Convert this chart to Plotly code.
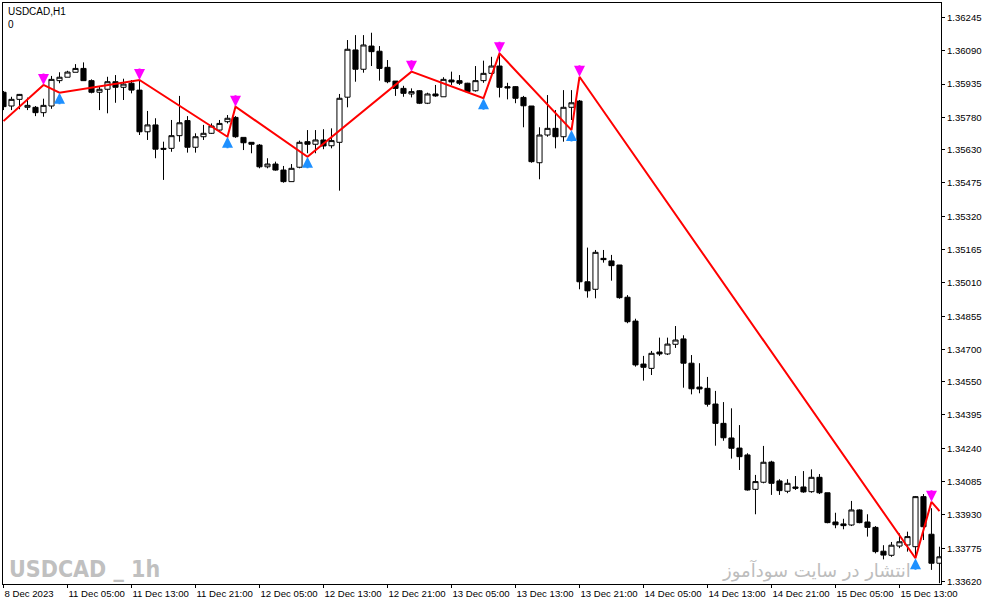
import plotly.graph_objects as go

# ---------------- data ----------------
bar_index = list(range(118))

opens = [1.35897, 1.35833, 1.35864, 1.35827, 1.35827, 1.35802, 1.35833, 1.35951, 1.35967, 1.35990,
         1.36008, 1.35951, 1.35897, 1.35911, 1.35946, 1.35920, 1.35939, 1.35907, 1.35713, 1.35745,
         1.35636, 1.35636, 1.35695, 1.35765, 1.35641, 1.35690, 1.35706, 1.35721, 1.35760, 1.35780,
         1.35687, 1.35664, 1.35651, 1.35550, 1.35563, 1.35535, 1.35481, 1.35548, 1.35667, 1.35655,
         1.35675, 1.35648, 1.35664, 1.35874, 1.36094, 1.36004, 1.36112, 1.36088, 1.36013, 1.35949,
         1.35915, 1.35889, 1.35904, 1.35846, 1.35889, 1.35876, 1.35954, 1.35951, 1.35939, 1.35904,
         1.35951, 1.35985, 1.36019, 1.35923, 1.35923, 1.35873, 1.35833, 1.35569, 1.35698, 1.35729,
         1.35690, 1.35827, 1.35856, 1.35015, 1.34980, 1.35124, 1.35112, 1.35093, 1.34943, 1.34832,
         1.34632, 1.34612, 1.34688, 1.34679, 1.34724, 1.34749, 1.34636, 1.34525, 1.34519, 1.34446,
         1.34356, 1.34288, 1.34241, 1.34209, 1.34049, 1.34082, 1.34176, 1.34088, 1.34040, 1.34060,
         1.34060, 1.34038, 1.34105, 1.34033, 1.33897, 1.33888, 1.33883, 1.33953, 1.33897, 1.33872,
         1.33761, 1.33742, 1.33785, 1.33790, 1.33782, 1.34015, 1.33840, 1.33705]

highs = [1.35903, 1.35876, 1.35889, 1.35872, 1.35833, 1.35867, 1.35973, 1.35990, 1.35997, 1.36028,
         1.36036, 1.35957, 1.35926, 1.35969, 1.35977, 1.35960, 1.35954, 1.35954, 1.35810, 1.35776,
         1.35667, 1.35768, 1.35880, 1.35786, 1.35706, 1.35745, 1.35752, 1.35768, 1.35791, 1.35786,
         1.35687, 1.35664, 1.35656, 1.35590, 1.35574, 1.35554, 1.35563, 1.35672, 1.35721, 1.35721,
         1.35725, 1.35729, 1.35889, 1.36140, 1.36163, 1.36163, 1.36174, 1.36112, 1.36047, 1.35949,
         1.35927, 1.35915, 1.35907, 1.35895, 1.35931, 1.35967, 1.35993, 1.35977, 1.35941, 1.36019,
         1.36044, 1.36062, 1.36078, 1.35941, 1.35926, 1.35880, 1.35833, 1.35734, 1.35884, 1.35814,
         1.35907, 1.35907, 1.35861, 1.35174, 1.35163, 1.35163, 1.35140, 1.35093, 1.34953, 1.34843,
         1.34670, 1.34693, 1.34755, 1.34755, 1.34809, 1.34766, 1.34674, 1.34636, 1.34572, 1.34507,
         1.34455, 1.34426, 1.34348, 1.34217, 1.34116, 1.34251, 1.34182, 1.34096, 1.34096, 1.34111,
         1.34134, 1.34142, 1.34120, 1.34033, 1.33940, 1.33912, 1.33995, 1.33956, 1.33933, 1.33878,
         1.33789, 1.33804, 1.33844, 1.33852, 1.34018, 1.34027, 1.33961, 1.33782]

lows = [1.35814, 1.35814, 1.35818, 1.35814, 1.35786, 1.35783, 1.35820, 1.35939, 1.35967, 1.35990,
        1.35951, 1.35892, 1.35814, 1.35799, 1.35848, 1.35861, 1.35892, 1.35698, 1.35675, 1.35590,
        1.35489, 1.35620, 1.35667, 1.35616, 1.35616, 1.35675, 1.35703, 1.35718, 1.35752, 1.35685,
        1.35628, 1.35613, 1.35543, 1.35543, 1.35532, 1.35476, 1.35481, 1.35543, 1.35613, 1.35613,
        1.35632, 1.35636, 1.35439, 1.35827, 1.35946, 1.35988, 1.36019, 1.35951, 1.35939, 1.35880,
        1.35876, 1.35873, 1.35842, 1.35842, 1.35876, 1.35876, 1.35931, 1.35931, 1.35895, 1.35900,
        1.35941, 1.35982, 1.35873, 1.35864, 1.35846, 1.35734, 1.35569, 1.35492, 1.35690, 1.35636,
        1.35667, 1.35768, 1.34980, 1.34941, 1.34938, 1.35104, 1.35020, 1.34936, 1.34822, 1.34620,
        1.34555, 1.34581, 1.34670, 1.34674, 1.34707, 1.34522, 1.34491, 1.34496, 1.34434, 1.34252,
        1.34275, 1.34192, 1.34139, 1.34043, 1.33933, 1.34077, 1.34023, 1.34023, 1.34031, 1.34046,
        1.34033, 1.34033, 1.34027, 1.33891, 1.33868, 1.33863, 1.33878, 1.33891, 1.33829, 1.33751,
        1.33723, 1.33735, 1.33775, 1.33759, 1.33735, 1.33813, 1.33674, 1.33612]

closes = [1.35830, 1.35864, 1.35887, 1.35836, 1.35802, 1.35836, 1.35957, 1.35967, 1.35991, 1.36008,
          1.35951, 1.35897, 1.35911, 1.35946, 1.35920, 1.35935, 1.35907, 1.35713, 1.35745, 1.35632,
          1.35632, 1.35695, 1.35755, 1.35641, 1.35690, 1.35706, 1.35740, 1.35752, 1.35776, 1.35690,
          1.35662, 1.35655, 1.35550, 1.35563, 1.35535, 1.35481, 1.35543, 1.35664, 1.35655, 1.35675,
          1.35647, 1.35672, 1.35869, 1.36097, 1.36004, 1.36117, 1.36086, 1.36008, 1.35946, 1.35915,
          1.35892, 1.35900, 1.35846, 1.35889, 1.35880, 1.35957, 1.35945, 1.35939, 1.35900, 1.35951,
          1.35985, 1.36019, 1.35920, 1.35917, 1.35869, 1.35834, 1.35574, 1.35698, 1.35729, 1.35690,
          1.35827, 1.35848, 1.35015, 1.34973, 1.35152, 1.35118, 1.35090, 1.34941, 1.34829, 1.34628,
          1.34617, 1.34682, 1.34679, 1.34725, 1.34744, 1.34636, 1.34517, 1.34516, 1.34445, 1.34356,
          1.34289, 1.34240, 1.34201, 1.34046, 1.34085, 1.34175, 1.34077, 1.34043, 1.34077, 1.34054,
          1.34037, 1.34105, 1.34033, 1.33894, 1.33884, 1.33880, 1.33953, 1.33894, 1.33872, 1.33759,
          1.33743, 1.33789, 1.33805, 1.33829, 1.34015, 1.33875, 1.33705, 1.33735]

# ZigZag vertices (bar index, price) and which of them get arrows
zigzag_index = [0, 5, 7, 17, 28, 29, 38, 51, 60, 62, 71, 72, 114, 116, 117]
zigzag_price = [1.35763, 1.35931, 1.35895, 1.35954, 1.35690, 1.35830, 1.35597, 1.35993,
                1.35869, 1.36078, 1.35721, 1.35969, 1.33728, 1.33991, 1.33948]
high_arrow_index = [5, 17, 29, 51, 62, 72, 116]
low_arrow_index = [7, 28, 38, 60, 71, 114]

# axis labels
time_tick_index = [0, 8, 16, 24, 32, 40, 48, 56, 64, 72, 80, 88, 96, 104, 112]
time_tick_text = ["8 Dec 2023", "11 Dec 05:00", "11 Dec 13:00", "11 Dec 21:00", "12 Dec 05:00",
                  "12 Dec 13:00", "12 Dec 21:00", "13 Dec 05:00", "13 Dec 13:00", "13 Dec 21:00",
                  "14 Dec 05:00", "14 Dec 13:00", "14 Dec 21:00", "15 Dec 05:00", "15 Dec 13:00"]
price_ticks = [1.36245, 1.36090, 1.35935, 1.35780, 1.35630, 1.35475, 1.35320, 1.35165, 1.35010,
               1.34855, 1.34700, 1.34550, 1.34395, 1.34240, 1.34085, 1.33930, 1.33775, 1.33620]

symbol_title = "USDCAD,H1"
watermark_left = "USDCAD _ 1h"
watermark_right = "انتشار در سایت سودآموز"

# ---------------- figure ----------------
zz_lookup = dict(zip(zigzag_index, zigzag_price))

fig = go.Figure()

fig.add_trace(go.Candlestick(
    x=bar_index, open=opens, high=highs, low=lows, close=closes,
    increasing=dict(fillcolor="#ffffff", line=dict(color="#000000", width=1)),
    decreasing=dict(fillcolor="#000000", line=dict(color="#000000", width=1)),
    whiskerwidth=0, showlegend=False, hoverinfo="skip",
))

fig.add_trace(go.Scatter(
    x=zigzag_index, y=zigzag_price, mode="lines",
    line=dict(color="#ff0000", width=2), showlegend=False, hoverinfo="skip",
))

annotations = []
for i in high_arrow_index:
    annotations.append(dict(x=i, y=zz_lookup[i], xref="x", yref="y", text="",
                            showarrow=True, arrowhead=2, arrowsize=1.1, arrowwidth=2,
                            arrowcolor="#ff00ff", ax=0, ay=-13))
for i in low_arrow_index:
    annotations.append(dict(x=i, y=zz_lookup[i], xref="x", yref="y", text="",
                            showarrow=True, arrowhead=2, arrowsize=1.1, arrowwidth=2,
                            arrowcolor="#1e90ff", ax=0, ay=13))

annotations.append(dict(x=0.0035, y=0.999, xref="paper", yref="paper", xanchor="left", yanchor="top",
                        text=symbol_title + "<br>0", showarrow=False, align="left",
                        font=dict(family="Liberation Sans", size=10, color="#000000")))
annotations.append(dict(x=0.004, y=0.0, xref="paper", yref="paper", xanchor="left", yanchor="bottom",
                        text="<b>" + watermark_left + "</b>", showarrow=False,
                        font=dict(family="Liberation Sans Narrow, DejaVu Sans Condensed, Liberation Sans, sans-serif",
                                  size=23, color="#c0c0c0")))
annotations.append(dict(x=0.970, y=0.0, xref="paper", yref="paper", xanchor="right", yanchor="bottom",
                        text=watermark_right, showarrow=False,
                        font=dict(family="DejaVu Sans", size=18, color="#bdbdbd")))

x_left = -0.0625
x_right = 117.19
fig.update_layout(
    width=987, height=605, autosize=False,
    margin=dict(l=3, r=46, t=3, b=21, pad=0),
    paper_bgcolor="#ffffff", plot_bgcolor="#ffffff",
    showlegend=False, boxgap=0.2, boxgroupgap=0.2,
    annotations=annotations,
    font=dict(family="Liberation Sans", size=10, color="#000000"),
    xaxis=dict(range=[x_left, x_right], rangeslider=dict(visible=False),
               tickmode="array", tickvals=time_tick_index, ticktext=time_tick_text,
               ticks="outside", ticklen=3, tickcolor="#000000", tickwidth=1,
               ticklabelposition="outside right", tickangle=0, automargin=False,
               tickfont=dict(family="Liberation Sans", size=9.6, color="#000000"),
               showline=True, linecolor="#000000", linewidth=1, mirror=True,
               showgrid=False, zeroline=False, fixedrange=True),
    yaxis=dict(side="right", range=[1.336084, 1.363124], automargin=False,
               tickmode="array", tickvals=price_ticks,
               ticktext=[f"{v:.5f}" for v in price_ticks],
               ticks="outside", ticklen=3, tickcolor="#000000", tickwidth=1,
               tickfont=dict(family="Liberation Sans", size=9.6, color="#000000"),
               showline=True, linecolor="#000000", linewidth=1, mirror=True,
               showgrid=False, zeroline=False, fixedrange=True),
)

fig.write_html("out.html", config={"displayModeBar": False},
               post_script="document.body.style.margin='0';document.body.style.overflow='hidden';")
